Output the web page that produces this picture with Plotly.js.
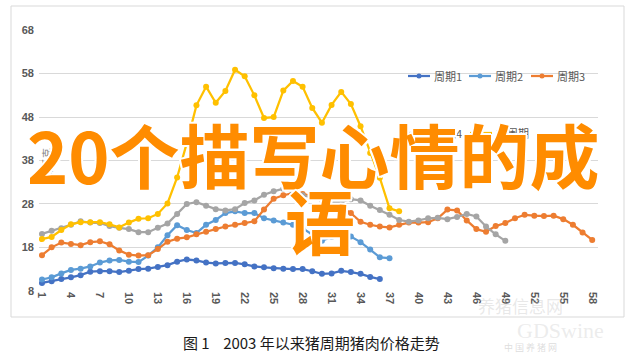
<!DOCTYPE html>
<html><head><meta charset="utf-8">
<script src="https://cdn.plot.ly/plotly-3.0.1.min.js"></script>
<style>html,body{margin:0;padding:0;background:#fff;} #chart{width:634px;height:358px;}</style>
</head><body><div id="chart"></div>
<script>
const periods = [1,2,3,4,5,6,7,8,9,10,11,12,13,14,15,16,17,18,19,20,21,22,23,24,25,26,27,28,29,30,
  31,32,33,34,35,36,37,38,39,40,41,42,43,44,45,46,47,48,49,50,51,52,53,54,55,56,57,58];
const tickValues = [1,4,7,10,13,16,19,22,25,28,31,34,37,40,43,46,49,52,55,58];
const yTicks = [8,18,28,38,48,58,68];

const seriesNames = ['周期1','周期2','周期3','周期4','本周期'];
const cycle1 = [9.8,10.2,10.7,11.1,11.6,12.4,12.5,12.5,12.3,12.6,13.0,13.1,13.5,13.9,14.7,15.2,15.0,14.5,14.3,14.4,
  14.4,14.1,13.6,13.4,13.2,13.1,13.0,13.0,12.5,11.9,12.0,12.6,12.3,11.9,11.2,10.7];
const cycle2 = [10.6,11.1,12.0,12.8,13.1,13.6,14.5,15.0,15.1,14.7,14.6,16.1,18.0,20.8,23.1,22.0,21.3,23.2,24.3,25.9,
  26.3,25.9,25.9,24.7,24.2,23.7,23.2,22.4,20.9,19.5,20.4,21.0,20.5,19.2,17.5,15.7,15.5];
const cycle3 = [16.2,18.0,19.1,18.8,18.5,19.2,19.4,18.7,17.3,16.3,16.1,16.2,17.6,19.3,20.0,20.3,21.0,21.6,22.2,22.8,
  23.2,23.6,24.0,26.7,29.2,30.0,30.5,30.3,29.8,29.0,28.2,27.3,25.9,23.9,23.2,22.8,22.6,23.2,23.7,23.7,
  23.8,24.7,26.7,26.5,24.2,22.2,21.6,22.9,23.6,24.7,25.5,25.3,25.2,25.3,24.5,23.2,21.4,19.7];
const cycle4 = [21.1,21.8,22.4,23.2,24.0,23.7,23.6,22.9,22.5,22.2,21.5,21.5,22.5,23.5,25.7,28.0,28.4,27.6,26.8,26.5,
  26.8,28.2,28.8,30.1,30.9,31.5,30.6,30.0,29.4,28.9,28.5,28.4,29.1,28.8,27.6,26.6,25.5,24.3,23.9,24.2,
  24.7,24.8,24.5,25.0,25.7,25.1,22.8,21.0,19.5];
const current = [19.9,20.4,22.0,23.3,23.8,23.8,23.8,23.3,22.6,23.7,24.6,24.7,25.7,28.1,34.1,42.0,50.7,55.0,51.3,54.0,
  58.9,57.4,53.0,47.8,48.0,54.1,56.3,55.0,50.1,46.7,50.8,53.8,51.0,45.9,39.7,34.0,27.0,26.3];

const colors = ['#4472C4','#5B9BD5','#ED7D31','#A5A5A5','#FFC000'];
const allSeries = [cycle1, cycle2, cycle3, cycle4, current];

const traces = allSeries.map((vals, i) => ({
  type: 'scatter', mode: 'lines+markers',
  name: seriesNames[i],
  x: periods.slice(0, vals.length), y: vals,
  line: {color: colors[i], width: 2.25},
  marker: {color: colors[i], size: 6},
  hoverinfo: 'skip'
}));

// pixel -> paper helpers (plot area: x 39..598, y 30..291)
const PX0 = 39, PW = 559, PY1 = 291, PH = 261;
const px = v => (v - PX0) / PW;
const py = v => (PY1 - v) / PH;

const outline = '2px 0 0 #fff, -2px 0 0 #fff, 0 2px 0 #fff, 0 -2px 0 #fff, 1.5px 1.5px 0 #fff, -1.5px -1.5px 0 #fff, 1.5px -1.5px 0 #fff, -1.5px 1.5px 0 #fff';
const bigFont = {family: '"Noto Sans CJK SC", sans-serif', size: 70, color: '#FF8C00', weight: 700, shadow: outline};
const tickFont = {family: '"Liberation Sans", Arial, sans-serif', size: 11, color: '#595959', weight: 700};
const legFont = {family: '"Noto Sans CJK SC", sans-serif', size: 11, color: '#595959'};

// legend (drawn by hand to match the compact legend of the reference)
const legendSlots = [[408, 76], [469, 76], [531, 76], [408, 133], [470, 133]];
const shapes = [
  {type: 'rect', xref: 'paper', yref: 'paper', x0: px(11), x1: px(624), y0: py(317), y1: py(6),
   line: {color: '#D9D9D9', width: 1}, fillcolor: 'rgba(0,0,0,0)', layer: 'below'}
];
const annotations = [];
legendSlots.forEach(([lx, ly], i) => {
  shapes.push({type: 'line', xref: 'paper', yref: 'paper', x0: px(lx), x1: px(lx + 22), y0: py(ly), y1: py(ly),
    line: {color: colors[i], width: 2.25}, layer: 'above'});
  shapes.push({type: 'circle', xref: 'paper', yref: 'paper', x0: px(lx + 8.5), x1: px(lx + 13.5),
    y0: py(ly + 2.5), y1: py(ly - 2.5), line: {color: colors[i], width: 0}, fillcolor: colors[i], layer: 'above'});
  annotations.push({xref: 'paper', yref: 'paper', x: px(lx + 24), y: py(ly), xanchor: 'left', yanchor: 'middle',
    text: seriesNames[i], showarrow: false, font: legFont});
});

const A = (x, y, text, font, extra) => Object.assign({xref: 'paper', yref: 'paper', x: px(x), y: py(y),
  xanchor: 'center', yanchor: 'middle', text, showarrow: false, font}, extra || {});

annotations.push(
  A(47, 165, '元/千克', {family: '"Noto Sans CJK SC", sans-serif', size: 10, color: '#7f7f7f'}, {textangle: -90}),
  A(520, 305, '养猪信息网', {family: '"Noto Sans CJK SC", sans-serif', size: 17, color: 'rgba(190,190,190,0.35)'}),
  A(560, 330, 'GDSwine', {family: '"Liberation Serif", serif', size: 22, color: 'rgba(200,200,200,0.35)'}),
  A(530, 347, '中 国 养 猪 网', {family: '"Noto Sans CJK SC", sans-serif', size: 9, color: 'rgba(180,180,180,0.45)'}),
  A(313, 153, '20个描写心情的成', bigFont),
  A(320, 220, '语', bigFont),
  A(311, 342, '图 1\u00a0\u00a0\u00a0\u00a02003 年以来猪周期猪肉价格走势',
    {family: '"Noto Sans CJK SC", sans-serif', size: 15, color: '#1a1a1a'})
);

const layout = {
  width: 634, height: 358,
  margin: {l: 39, r: 36, t: 30, b: 67},
  paper_bgcolor: '#fff', plot_bgcolor: '#fff',
  showlegend: false,
  xaxis: {
    range: [0.69, 58.6], tickvals: tickValues, ticktext: tickValues.map(String),
    tickangle: 90, showgrid: false, zeroline: false, showline: false, ticks: '',
    tickfont: tickFont
  },
  yaxis: {
    range: [7.95, 68.05], tickvals: yTicks, showgrid: true, gridcolor: '#D9D9D9', gridwidth: 1,
    zeroline: false, showline: false, ticks: '', tickfont: tickFont, ticklabelstandoff: 4
  },
  shapes, annotations
};

Plotly.newPlot('chart', traces, layout, {displayModeBar: false, staticPlot: true});
</script>
</body></html>
